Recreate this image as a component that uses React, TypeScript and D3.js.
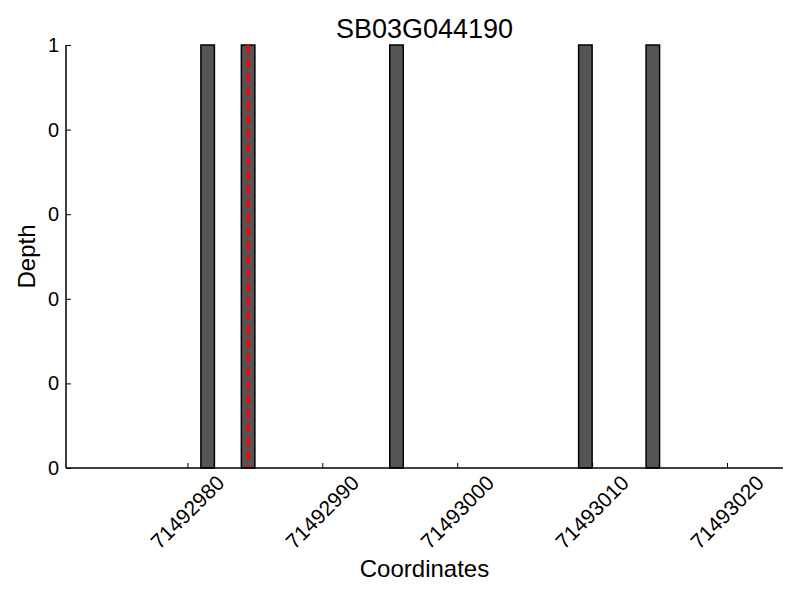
import React, { useEffect, useRef } from 'react';
import * as d3 from 'd3';

// coverage data
const title = 'SB03G044190';
const barStarts = [71492981, 71492984, 71492995, 71493009, 71493014];
const barDepths = [1, 1, 1, 1, 1];
const markerPos = 71492984.5;
const xDomain = [71492971, 71493024.15];
const xTicks = [71492980, 71492990, 71493000, 71493010, 71493020];
const yTicks = [0, 0.2, 0.4, 0.6, 0.8, 1];
const yTickLabels = ['0', '0', '0', '0', '0', '1'];

export default function App() {
  const svgRef = useRef<SVGSVGElement>(null);

  useEffect(() => {
    const margin = { top: 45, right: 17, bottom: 132, left: 66 },
      width = 800 - margin.left - margin.right,
      height = 600 - margin.top - margin.bottom;
    const font = '"Liberation Sans", Arial, sans-serif';

    d3.select(svgRef.current).selectAll('*').remove();

    const root = d3.select(svgRef.current)
      .attr('width', 800)
      .attr('height', 600)
      .style('font-family', font);

    root.append('rect').attr('width', 800).attr('height', 600).attr('fill', '#fff');

    const svg = root.append('g')
      .attr('transform', `translate(${margin.left},${margin.top})`);

    const x = d3.scaleLinear().domain(xDomain).range([0, width]);
    const y = d3.scaleLinear().domain([0, 1]).range([height, 0]);

    // bars
    svg.selectAll('.bar')
      .data(barStarts.map((s, i) => ({ s, d: barDepths[i] })))
      .enter()
      .append('rect')
      .attr('class', 'bar')
      .attr('x', d => x(d.s))
      .attr('width', d => x(d.s + 1) - x(d.s))
      .attr('y', d => y(d.d))
      .attr('height', d => y(0) - y(d.d))
      .attr('fill', '#555555')
      .attr('stroke', '#000')
      .attr('stroke-width', 1.5);

    // marker line
    svg.append('line')
      .attr('x1', x(markerPos)).attr('x2', x(markerPos))
      .attr('y1', y(1)).attr('y2', y(0))
      .attr('stroke', 'red')
      .attr('stroke-width', 3)
      .attr('stroke-dasharray', '9,5');

    // axes (left + bottom spines, inward ticks)
    const xAxis = svg.append('g')
      .attr('transform', `translate(0,${height})`)
      .call(d3.axisTop(x).tickValues(xTicks).tickSize(5).tickFormat(() => ''));
    xAxis.select('.domain').attr('d', `M0,0H${width}`).attr('stroke-width', 1.5);

    const yAxis = svg.append('g')
      .call(d3.axisRight(y).tickValues(yTicks).tickSize(5).tickFormat(() => ''));
    yAxis.select('.domain').attr('d', `M0,0V${height}`).attr('stroke-width', 1.5);

    // x tick labels, rotated
    svg.selectAll('.xlab')
      .data(xTicks)
      .enter()
      .append('text')
      .attr('class', 'xlab')
      .attr('transform', d => `translate(${x(d)},${height + 44}) rotate(-45)`)
      .attr('text-anchor', 'middle')
      .attr('dy', '0.35em')
      .style('font-size', '21px')
      .text(d => String(d));

    // y tick labels
    svg.selectAll('.ylab')
      .data(yTicks)
      .enter()
      .append('text')
      .attr('class', 'ylab')
      .attr('x', -7)
      .attr('y', d => y(d))
      .attr('dy', '0.35em')
      .attr('text-anchor', 'end')
      .style('font-size', '20px')
      .text((d, i) => yTickLabels[i]);

    // labels
    root.append('text')
      .attr('x', margin.left + width / 2)
      .attr('y', 38)
      .attr('text-anchor', 'middle')
      .style('font-size', '27px')
      .text(title);

    root.append('text')
      .attr('x', margin.left + width / 2)
      .attr('y', 577)
      .attr('text-anchor', 'middle')
      .style('font-size', '24px')
      .text('Coordinates');

    root.append('text')
      .attr('transform', `translate(35,${margin.top + height / 2}) rotate(-90)`)
      .attr('text-anchor', 'middle')
      .style('font-size', '24px')
      .text('Depth');
  }, []);

  return (
    <svg ref={svgRef} style={{ position: 'absolute', left: 0, top: 0 }}></svg>
  );
}
